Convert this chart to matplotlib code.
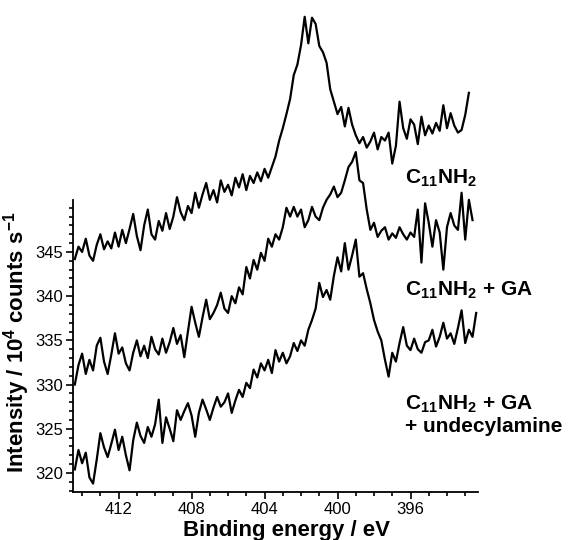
import numpy as np
import matplotlib
matplotlib.use("Agg")
import matplotlib.pyplot as plt
from matplotlib.ticker import FixedLocator

plt.rcParams['font.family'] = ['Liberation Sans', 'DejaVu Sans']
plt.rcParams['mathtext.fontset'] = 'custom'
plt.rcParams['mathtext.bf'] = 'Liberation Sans:bold'
plt.rcParams['mathtext.rm'] = 'Liberation Sans'

# binding energy grid (eV), 0.2 eV steps starting at 414.4 eV
e_start, e_step = 414.4, 0.2

# C11NH2
top = [344.2, 345.6, 345.0, 346.5, 344.6, 344.0, 345.8, 347.0, 345.3, 346.2,
       345.4, 347.2, 345.6, 347.5, 346.0, 347.6, 349.3, 346.8, 345.2, 348.0,
       349.8, 347.0, 346.4, 348.5, 347.4, 349.4, 347.6, 349.0, 351.2, 349.5,
       348.6, 350.2, 349.4, 351.7, 350.0, 351.5, 352.8, 350.9, 352.0, 350.6,
       353.1, 351.8, 352.6, 351.4, 353.4, 352.3, 353.8, 352.0, 353.6, 352.8,
       354.0, 353.0, 354.4, 353.4, 354.6, 355.8, 357.6, 359.0, 360.6, 362.3,
       365.0, 366.2, 368.4, 371.6, 368.6, 371.5, 370.8, 368.3, 367.6, 366.4,
       363.4, 362.0, 360.6, 361.4, 359.2, 361.3, 359.4, 358.2, 357.3, 358.0,
       356.8, 357.5, 358.5, 356.6, 358.0, 357.6, 358.5, 355.0, 357.0, 362.0,
       359.0, 357.8, 360.0, 359.4, 357.2, 360.3, 358.2, 359.3, 358.4, 359.6,
       358.7, 361.6, 359.0, 360.7, 359.3, 358.5, 358.8, 360.5, 363.0]

# C11NH2 + GA
mid = [330.0, 332.2, 333.5, 331.2, 332.8, 331.6, 334.4, 335.3, 332.6, 331.2,
       333.4, 335.8, 333.5, 334.2, 332.4, 331.6, 333.6, 335.0, 333.2, 334.4,
       333.0, 335.4, 334.0, 333.4, 335.2, 333.6, 334.8, 336.4, 334.6, 335.6,
       333.1, 336.0, 338.8, 337.0, 335.4, 337.6, 339.6, 337.4, 338.1, 339.0,
       340.4, 338.6, 338.1, 340.0, 339.2, 341.0, 340.2, 343.3, 342.0, 344.1,
       343.0, 344.9, 344.0, 346.5, 345.6, 347.0, 346.4, 347.8, 350.0, 349.0,
       350.1, 349.0, 349.8, 347.8, 348.6, 350.1, 349.0, 348.6, 350.0, 350.9,
       351.5, 352.4, 351.2, 351.7, 353.1, 354.6, 355.2, 356.3, 353.1, 352.8,
       349.8, 347.5, 348.3, 346.7, 347.4, 347.8, 346.4, 347.1, 346.6, 347.8,
       347.0, 346.4, 347.2, 346.7, 349.8, 343.8, 350.5, 348.3, 345.6, 348.6,
       347.2, 343.0, 347.8, 349.4, 348.0, 347.5, 351.7, 346.4, 350.9, 348.6]

# C11NH2 + GA + undecylamine
bot = [320.4, 322.6, 321.1, 322.3, 319.5, 318.8, 321.5, 324.5, 322.9, 321.8,
       323.3, 324.9, 322.6, 324.1, 322.0, 320.3, 323.7, 325.7, 324.2, 323.4,
       325.2, 324.1, 325.5, 328.3, 323.4, 326.3, 325.0, 323.6, 327.1, 326.0,
       327.0, 327.9, 326.5, 324.1, 326.8, 328.3, 327.2, 326.0, 327.4, 328.6,
       327.5, 328.0, 329.0, 326.8, 328.2, 329.4, 328.6, 330.2, 329.6, 331.7,
       330.8, 332.4, 331.6, 332.8, 331.3, 333.9, 332.6, 333.6, 332.4, 333.2,
       334.7, 333.8, 335.0, 334.4, 336.2, 337.3, 338.6, 341.5, 339.9, 340.7,
       339.6, 342.3, 344.4, 342.8, 346.0, 343.0, 344.6, 346.4, 342.2, 342.6,
       340.8, 339.2, 337.3, 336.0, 335.0, 332.8, 330.9, 333.6, 332.6, 334.7,
       336.5, 334.4, 333.9, 335.2, 334.0, 333.6, 334.8, 335.0, 336.2, 334.3,
       335.4, 337.0, 335.2, 335.8, 334.6, 336.4, 338.4, 334.7, 336.2, 335.4,
       338.1]

labels = [r"C$_{\mathbf{11}}$NH$_{\mathbf{2}}$",
          r"C$_{\mathbf{11}}$NH$_{\mathbf{2}}$ + GA",
          "C$_{\\mathbf{11}}$NH$_{\\mathbf{2}}$ + GA\n+ undecylamine"]
label_xy = [(396.3, 353.4), (396.3, 340.7), (396.3, 326.6)]

x_major = [412, 408, 404, 400, 396]
y_major = [320, 325, 330, 335, 340, 345]

fig = plt.figure(figsize=(5.74, 5.40), dpi=100)
ax = fig.add_axes([73 / 574, 48 / 540, 405 / 574, 492 / 540])

for s in (top, mid, bot):
    e = np.round(e_start - e_step * np.arange(len(s)), 1)
    ax.plot(e, s, color='black', lw=1.6)

for txt, (x, y) in zip(labels, label_xy):
    ax.text(x, y, txt, fontsize=15, fontweight='bold', ha='left', va='center',
            linespacing=1.15)

ax.set_xlim(414.5, 392.3)
ax.set_ylim(317.85, 373.5)

ax.spines['top'].set_visible(False)
ax.spines['right'].set_visible(False)
ax.spines['left'].set_bounds(317.85, 350.9)
for sp in ('left', 'bottom'):
    ax.spines[sp].set_linewidth(1.3)

ax.xaxis.set_major_locator(FixedLocator(x_major))
ax.xaxis.set_minor_locator(FixedLocator([v for v in range(393, 415) if v not in x_major]))
ax.yaxis.set_major_locator(FixedLocator(y_major))
ax.yaxis.set_minor_locator(FixedLocator([v for v in range(318, 351) if v not in y_major]))

ax.tick_params(which='major', direction='out', length=5, width=1.2, labelsize=12, pad=2)
ax.tick_params(which='minor', direction='out', length=3, width=1.2)

ax.set_xlabel("Binding energy / eV", fontsize=16, fontweight='bold')
ax.xaxis.set_label_coords(0.526, -0.057)
ax.set_ylabel(r"Intensity / 10$^{\mathbf{4}}$ counts s$^{\mathbf{-1}}$", fontsize=16,
              fontweight='bold')
ax.yaxis.set_label_coords(-0.1, 0.305)

fig.savefig("out.png", dpi=100)
